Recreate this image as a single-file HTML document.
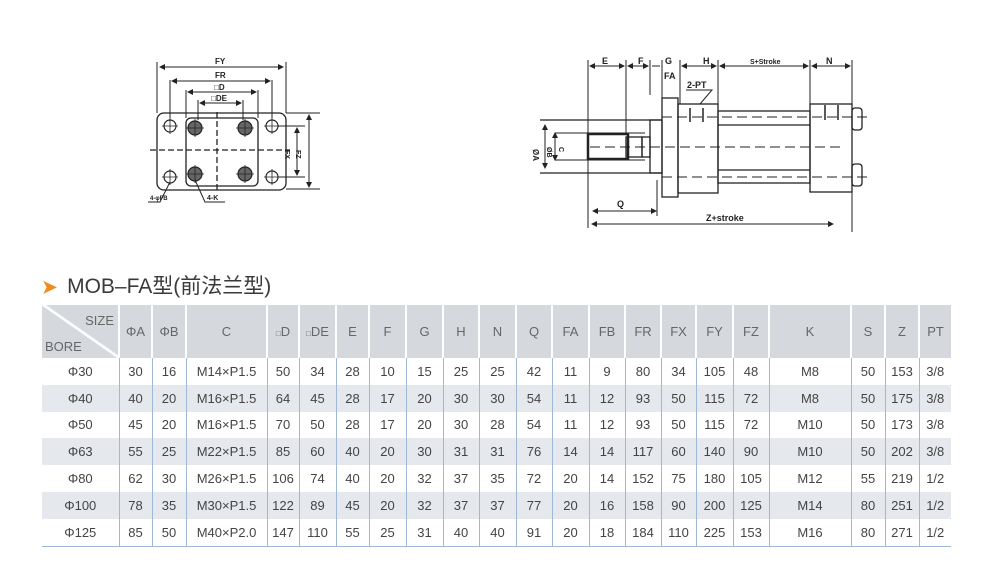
<!DOCTYPE html>
<html><head><meta charset="utf-8"><style>
body{margin:0;width:1000px;height:568px;background:#fff;overflow:hidden;font-family:"Liberation Sans","Noto Sans CJK SC",sans-serif;position:relative}
svg{position:absolute;left:0;top:0}
.title{position:absolute;left:42px;top:270px;font-size:21px;color:#3a3a3a;font-family:"Liberation Sans","Noto Sans CJK SC",sans-serif}
.title b{color:#f08c1e;font-size:18px;margin-right:10px}
table{position:absolute;left:42px;top:305px;border-collapse:collapse;table-layout:fixed;font-size:13px;color:#444}
td,th{text-align:center;padding:0;font-weight:normal}
th{background:#d5d9de;color:#666;height:53px;border-left:2px solid #fff;font-size:13px}
td{height:26.8px;border-left:1px solid #9fb8d8}
tr.g td{background:#e5e8ed}
tr.l td{border-bottom:1px solid #9fb8d8}
td:first-child,th:first-child{border-left:none}
</style></head><body>
<svg width="1000" height="260" viewBox="0 0 1000 260" fill="none" stroke="#222" stroke-width="1.3" font-family="Liberation Sans, sans-serif">
<defs><marker id="a" markerWidth="6" markerHeight="6" refX="5" refY="3" orient="auto-start-reverse"><path d="M0,0L6,3L0,6z" fill="#222" stroke="none"/></marker></defs>
<!-- left view -->
<rect x="157" y="113" width="129" height="77" rx="7"/>
<rect x="186" y="118" width="72" height="68" rx="5"/>
<line x1="217" y1="112" x2="217" y2="192" stroke-dasharray="6,3"/>
<line x1="150" y1="150" x2="290" y2="150" stroke-dasharray="6,3"/>
<g stroke-width="1.2">
<circle cx="170" cy="126" r="6"/><circle cx="272" cy="126" r="6"/><circle cx="170" cy="177" r="6"/><circle cx="272" cy="177" r="6"/>
<path d="M162,126h16M170,118v16M264,126h16M272,118v16M162,177h16M170,169v16M264,177h16M272,169v16" stroke-width="0.8"/>
<circle cx="195" cy="128" r="7" fill="#666"/><circle cx="245" cy="128" r="7" fill="#666"/><circle cx="195" cy="174" r="7" fill="#666"/><circle cx="245" cy="174" r="7" fill="#666"/>
<path d="M186,128h18M195,119v18M236,128h18M245,119v18M186,174h18M195,165v18M236,174h18M245,165v18" stroke-width="0.8"/>
</g>
<g stroke-width="1">
<line x1="157" y1="62" x2="157" y2="113"/><line x1="286" y1="62" x2="286" y2="113"/>
<line x1="170" y1="80" x2="170" y2="118"/><line x1="272" y1="80" x2="272" y2="118"/>
<line x1="186" y1="90" x2="186" y2="118"/><line x1="258" y1="90" x2="258" y2="118"/>
<line x1="198" y1="100" x2="198" y2="120"/><line x1="243" y1="100" x2="243" y2="120"/>
<line x1="160" y1="67" x2="283" y2="67" marker-start="url(#a)" marker-end="url(#a)"/>
<line x1="172" y1="81" x2="270" y2="81" marker-start="url(#a)" marker-end="url(#a)"/>
<line x1="188" y1="92" x2="256" y2="92" marker-start="url(#a)" marker-end="url(#a)"/>
<line x1="200" y1="103" x2="241" y2="103" marker-start="url(#a)" marker-end="url(#a)"/>
<line x1="286" y1="113" x2="320" y2="113"/><line x1="286" y1="189" x2="320" y2="189"/>
<line x1="278" y1="126" x2="305" y2="126"/><line x1="278" y1="177" x2="305" y2="177"/>
<line x1="309" y1="115" x2="309" y2="187" marker-start="url(#a)" marker-end="url(#a)"/>
<line x1="297" y1="128" x2="297" y2="175" marker-start="url(#a)" marker-end="url(#a)"/>
<polyline points="170,182 160,202 148,202"/><polyline points="195,180 205,202 225,202"/>
</g>
<g fill="#222" stroke="none" font-size="8" font-weight="bold">
<text x="215" y="64">FY</text><text x="215" y="78">FR</text><text x="214" y="90">□D</text><text x="211" y="101">□DE</text>
<text x="150" y="200" font-size="6">4-φFB</text><text x="207" y="200" font-size="7">4-K</text>
<text x="292" y="157" transform="rotate(90 292 150)" font-size="7">FX</text><text x="303" y="157" transform="rotate(90 303 150)" font-size="7">FZ</text>
</g>
<!-- right view -->
<g stroke-width="1">
<line x1="588" y1="60" x2="588" y2="228"/><line x1="626" y1="60" x2="626" y2="135"/><line x1="650" y1="60" x2="650" y2="95"/>
<line x1="662" y1="60" x2="662" y2="98"/><line x1="680" y1="60" x2="680" y2="104"/><line x1="718" y1="60" x2="718" y2="104"/>
<line x1="810" y1="60" x2="810" y2="104"/><line x1="852" y1="60" x2="852" y2="232"/>
<line x1="590" y1="66" x2="624" y2="66" marker-start="url(#a)" marker-end="url(#a)"/>
<line x1="628" y1="66" x2="648" y2="66" marker-start="url(#a)" marker-end="url(#a)"/>
<line x1="652" y1="66" x2="660" y2="66"/>
<line x1="682" y1="66" x2="716" y2="66" marker-start="url(#a)" marker-end="url(#a)"/>
<line x1="720" y1="66" x2="808" y2="66" marker-start="url(#a)" marker-end="url(#a)"/>
<line x1="812" y1="66" x2="850" y2="66" marker-start="url(#a)" marker-end="url(#a)"/>
<line x1="593" y1="211" x2="656" y2="211" marker-start="url(#a)" marker-end="url(#a)"/>
<line x1="592" y1="224" x2="833" y2="224" marker-start="url(#a)" marker-end="url(#a)"/>
<line x1="657" y1="180" x2="657" y2="216"/>
<polyline points="686,90 712,90 700,104"/>
</g>
<line x1="540" y1="120" x2="662" y2="120"/><line x1="540" y1="173" x2="662" y2="173"/>
<line x1="545" y1="125" x2="545" y2="168" stroke-width="1" marker-start="url(#a)" marker-end="url(#a)"/>
<line x1="555" y1="133" x2="555" y2="160" stroke-width="1" marker-start="url(#a)" marker-end="url(#a)"/>
<line x1="555" y1="133" x2="645" y2="133" stroke-width="1"/><line x1="555" y1="160" x2="645" y2="160" stroke-width="1"/>
<rect x="588" y="134" width="40" height="25" stroke-width="2.5"/>
<rect x="626" y="137" width="16" height="20"/>
<rect x="642" y="137" width="8" height="20"/>
<rect x="650" y="120" width="12" height="53"/>
<rect x="662" y="98" width="16" height="99"/>
<rect x="678" y="104" width="40" height="89"/>
<rect x="718" y="111" width="92" height="72"/>
<line x1="718" y1="125" x2="810" y2="125"/><line x1="718" y1="170" x2="810" y2="170"/>
<rect x="810" y="104" width="42" height="88"/>
<rect x="852" y="108" width="10" height="22" rx="3"/><rect x="852" y="164" width="10" height="22" rx="3"/>
<g stroke-dasharray="10,5" stroke-width="1"><line x1="590" y1="147" x2="845" y2="147"/><line x1="662" y1="117" x2="868" y2="117"/><line x1="662" y1="177" x2="868" y2="177"/></g>
<g stroke-width="1.5"><line x1="690" y1="108" x2="690" y2="122"/><line x1="703" y1="108" x2="703" y2="122"/><line x1="825" y1="105" x2="825" y2="120"/><line x1="838" y1="105" x2="838" y2="120"/></g>
<g fill="#222" stroke="none" font-size="9" font-weight="bold">
<text x="602" y="64">E</text><text x="638" y="64">F</text><text x="665" y="64">G</text><text x="664" y="79">FA</text><text x="703" y="64">H</text>
<text x="750" y="64" font-size="7">S+Stroke</text><text x="826" y="64">N</text><text x="687" y="88">2-PT</text>
<text x="617" y="207">Q</text><text x="706" y="221">Z+stroke</text>
<text x="540" y="152" transform="rotate(90 538 147)" font-size="8">ØA</text><text x="550" y="150" transform="rotate(90 550 147)" font-size="7">ØB</text><text x="562" y="150" transform="rotate(90 562 147)" font-size="7">C</text>
</g>
</svg>
<div class="title"><b>➤</b>MOB–FA型(前法兰型)</div>
<table>
<colgroup><col style="width:77px"><col style="width:33px"><col style="width:34px"><col style="width:81px"><col style="width:32px"><col style="width:37px"><col style="width:33px"><col style="width:37px"><col style="width:37px"><col style="width:36px"><col style="width:37px"><col style="width:36px"><col style="width:37px"><col style="width:36px"><col style="width:36px"><col style="width:35px"><col style="width:37px"><col style="width:36px"><col style="width:82px"><col style="width:34px"><col style="width:34px"><col style="width:32px"></colgroup>
<tr><th style="position:relative;background:linear-gradient(to top right,#d5d9de 49%,#fff 50%,#fff 52%,#d5d9de 53%)"><span style="position:absolute;right:4px;top:8px">SIZE</span><span style="position:absolute;left:3px;bottom:4px">BORE</span></th><th>ΦA</th><th>ΦB</th><th>C</th><th><small style="font-size:8px">□</small>D</th><th><small style="font-size:8px">□</small>DE</th><th>E</th><th>F</th><th>G</th><th>H</th><th>N</th><th>Q</th><th>FA</th><th>FB</th><th>FR</th><th>FX</th><th>FY</th><th>FZ</th><th>K</th><th>S</th><th>Z</th><th>PT</th></tr>
<tr><td>Φ30</td><td>30</td><td>16</td><td>M14×P1.5</td><td>50</td><td>34</td><td>28</td><td>10</td><td>15</td><td>25</td><td>25</td><td>42</td><td>11</td><td>9</td><td>80</td><td>34</td><td>105</td><td>48</td><td>M8</td><td>50</td><td>153</td><td>3/8</td></tr>
<tr class="g"><td>Φ40</td><td>40</td><td>20</td><td>M16×P1.5</td><td>64</td><td>45</td><td>28</td><td>17</td><td>20</td><td>30</td><td>30</td><td>54</td><td>11</td><td>12</td><td>93</td><td>50</td><td>115</td><td>72</td><td>M8</td><td>50</td><td>175</td><td>3/8</td></tr>
<tr><td>Φ50</td><td>45</td><td>20</td><td>M16×P1.5</td><td>70</td><td>50</td><td>28</td><td>17</td><td>20</td><td>30</td><td>28</td><td>54</td><td>11</td><td>12</td><td>93</td><td>50</td><td>115</td><td>72</td><td>M10</td><td>50</td><td>173</td><td>3/8</td></tr>
<tr class="g"><td>Φ63</td><td>55</td><td>25</td><td>M22×P1.5</td><td>85</td><td>60</td><td>40</td><td>20</td><td>30</td><td>31</td><td>31</td><td>76</td><td>14</td><td>14</td><td>117</td><td>60</td><td>140</td><td>90</td><td>M10</td><td>50</td><td>202</td><td>3/8</td></tr>
<tr><td>Φ80</td><td>62</td><td>30</td><td>M26×P1.5</td><td>106</td><td>74</td><td>40</td><td>20</td><td>32</td><td>37</td><td>35</td><td>72</td><td>20</td><td>14</td><td>152</td><td>75</td><td>180</td><td>105</td><td>M12</td><td>55</td><td>219</td><td>1/2</td></tr>
<tr class="g"><td>Φ100</td><td>78</td><td>35</td><td>M30×P1.5</td><td>122</td><td>89</td><td>45</td><td>20</td><td>32</td><td>37</td><td>37</td><td>77</td><td>20</td><td>16</td><td>158</td><td>90</td><td>200</td><td>125</td><td>M14</td><td>80</td><td>251</td><td>1/2</td></tr>
<tr class="l"><td>Φ125</td><td>85</td><td>50</td><td>M40×P2.0</td><td>147</td><td>110</td><td>55</td><td>25</td><td>31</td><td>40</td><td>40</td><td>91</td><td>20</td><td>18</td><td>184</td><td>110</td><td>225</td><td>153</td><td>M16</td><td>80</td><td>271</td><td>1/2</td></tr>
</table>
</body></html>
